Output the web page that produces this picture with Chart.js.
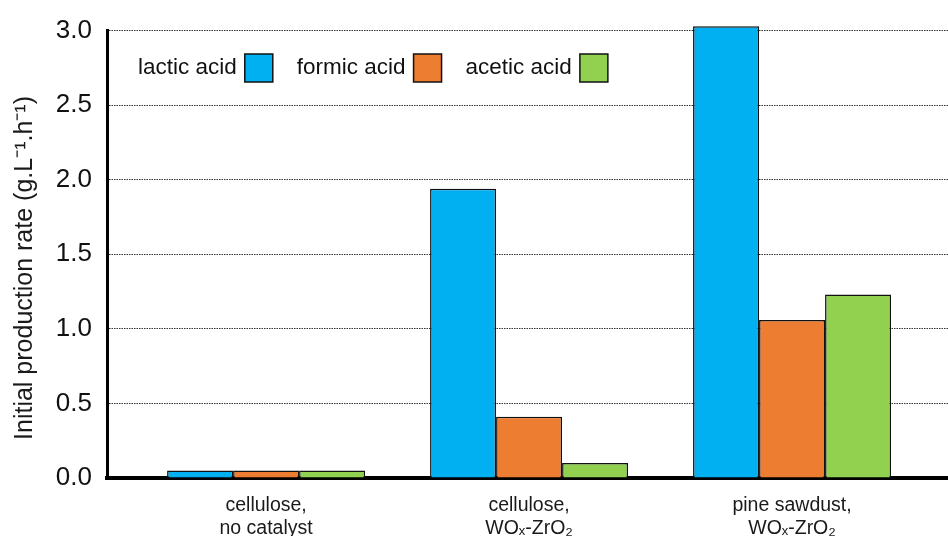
<!DOCTYPE html>
<html>
<head>
<meta charset="utf-8">
<script src="https://cdn.jsdelivr.net/npm/chart.js@4/dist/chart.umd.min.js"></script>
<style>
  html, body { margin: 0; padding: 0; background: #fff; }
  canvas { display: block; }
</style>
</head>
<body>
<canvas id="c" width="948" height="536"></canvas>
<script>
// Feedstock / catalyst combinations (one group of bars each)
const categories = [
  ["cellulose,", "no catalyst"],
  ["cellulose,", "WO\u2093-ZrO\u2082"],
  ["pine sawdust,", "WO\u2093-ZrO\u2082"]
];
const seriesNames = ["lactic acid", "formic acid", "acetic acid"];
// Initial production rates, g.L-1.h-1
const lacticAcid = [0.05, 1.94, 3.03];
const formicAcid = [0.05, 0.41, 1.06];
const aceticAcid = [0.05, 0.10, 1.23];
const yTicks = [0, 0.5, 1.0, 1.5, 2.0, 2.5, 3.0];
const yTitle = "Initial production rate (g.L\u207B\u00B9.h\u207B\u00B9)";

const seriesValues = [lacticAcid, formicAcid, aceticAcid];
const seriesColors = ["#00B0F0", "#ED7D31", "#92D050"];
const FONT = "'Liberation Sans', Arial, sans-serif";

const datasets = seriesNames.map((name, s) => ({
  label: name,
  data: seriesValues[s].map((v, i) => ({ x: i, y: v })),
  backgroundColor: seriesColors[s],
  borderColor: "#111",
  borderWidth: 1.5,
  borderSkipped: "bottom",
  categoryPercentage: 0.753,
  barPercentage: 1.0,
  clip: false
}));

// Legend drawn inside the plot: label text followed by its swatch
const inlineLegend = {
  id: "inlineLegend",
  afterDatasetsDraw(chart, args, opts) {
    const ctx = chart.ctx;
    ctx.save();
    ctx.font = opts.fontSize + "px " + FONT;
    ctx.textBaseline = "middle";
    ctx.textAlign = "left";
    let x = opts.x;
    const y = opts.y;
    chart.data.datasets.forEach((ds) => {
      ctx.fillStyle = "#111";
      ctx.fillText(ds.label, x, y);
      x += ctx.measureText(ds.label).width + opts.textGap;
      ctx.fillStyle = ds.backgroundColor;
      ctx.fillRect(x, y - opts.box / 2, opts.box, opts.box);
      ctx.lineWidth = 1.5;
      ctx.strokeStyle = "#111";
      ctx.strokeRect(x, y - opts.box / 2, opts.box, opts.box);
      x += opts.box + opts.itemGap;
    });
    ctx.restore();
  }
};

// Rotated value-axis title placed beside the tick labels
const valueAxisTitle = {
  id: "valueAxisTitle",
  afterDraw(chart, args, opts) {
    const ctx = chart.ctx;
    ctx.save();
    ctx.translate(opts.x, opts.y);
    ctx.rotate(-Math.PI / 2);
    ctx.font = opts.fontSize + "px " + FONT;
    ctx.fillStyle = "#1a1a1a";
    ctx.textAlign = "center";
    ctx.textBaseline = "middle";
    ctx.fillText(opts.text, 0, 0);
    ctx.restore();
  }
};

new Chart(document.getElementById("c"), {
  type: "bar",
  data: { datasets },
  plugins: [inlineLegend, valueAxisTitle],
  options: {
    responsive: false,
    animation: false,
    devicePixelRatio: 1,
    layout: { padding: { top: 26, right: 0, left: 0, bottom: 0 } },
    plugins: {
      legend: { display: false },
      tooltip: { enabled: false },
      inlineLegend: { x: 138, y: 68, fontSize: 22.5, textGap: 8, box: 28, itemGap: 24 },
      valueAxisTitle: { x: 25, y: 268, fontSize: 25, text: yTitle }
    },
    scales: {
      x: {
        type: "linear",
        offset: false,
        min: -0.605,
        max: 2.593,
        afterFit(scale) { scale.height = 58; },
        grid: { display: false },
        border: { display: true, color: "#000", width: 4 },
        afterBuildTicks(scale) {
          scale.ticks = categories.map((_, i) => ({ value: i }));
        },
        ticks: {
          autoSkip: false,
          maxRotation: 0,
          padding: 8,
          color: "#1a1a1a",
          font: { family: FONT, size: 19.5, lineHeight: 1.18 },
          callback: (v) => categories[v] || ""
        }
      },
      y: {
        min: 0,
        max: 3.0,
        afterFit(scale) { scale.width = 107; },
        afterBuildTicks(scale) {
          scale.ticks = yTicks.map((v) => ({ value: v }));
        },
        grid: { color: "#333", lineWidth: 1, drawTicks: false },
        border: { display: true, color: "#000", width: 3, dash: [1.5, 1] },
        ticks: {
          padding: 15,
          color: "#111",
          font: { family: FONT, size: 26 },
          callback: (v) => Number(v).toFixed(1)
        }
      }
    }
  }
});
</script>
</body>
</html>
